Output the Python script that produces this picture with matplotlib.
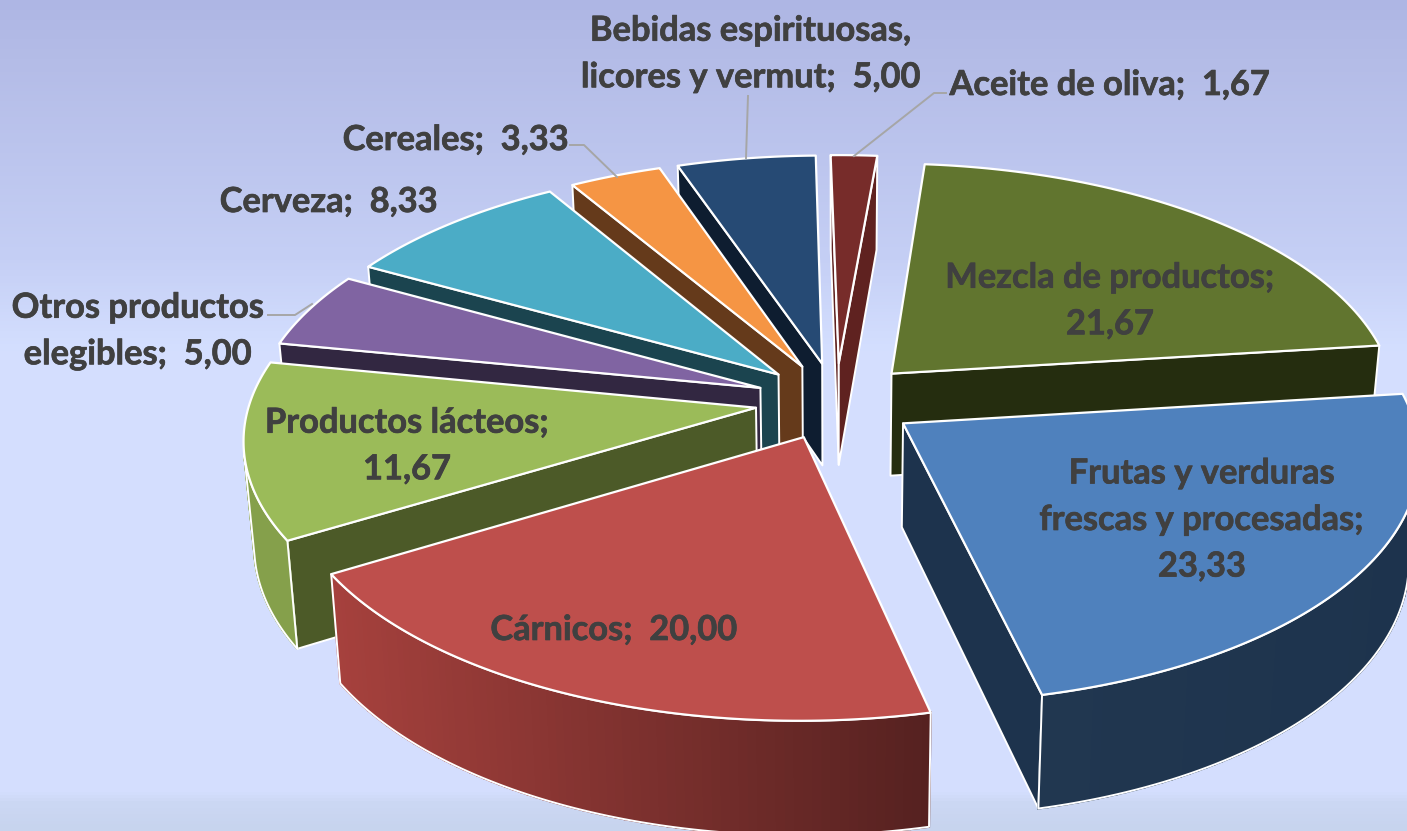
import numpy as np
import matplotlib
matplotlib.use("Agg")
import matplotlib.pyplot as plt
import matplotlib.patheffects as pe
from matplotlib.colors import LinearSegmentedColormap, to_rgb
from matplotlib.patches import Polygon

categories = ["Mezcla de productos", "Frutas y verduras frescas y procesadas", "Cárnicos",
              "Productos lácteos", "Otros productos elegibles", "Cerveza", "Cereales",
              "Bebidas espirituosas, licores y vermut", "Aceite de oliva"]
values = [21.67, 23.33, 20.00, 11.67, 5.00, 8.33, 3.33, 5.00, 1.67]
label_texts = ["Mezcla de productos;\n21,67", "Frutas y verduras\nfrescas y procesadas;\n23,33",
               "Cárnicos;  20,00", "Productos lácteos;\n11,67", "Otros productos\nelegibles;  5,00",
               "Cerveza;  8,33", "Cereales;  3,33", "Bebidas espirituosas,\nlicores y vermut;  5,00",
               "Aceite de oliva;  1,67"]

# top, radial wall, outer wall from/to
top_colors = ["#61752F", "#4F81BD", "#BE4F4C", "#9BBB59", "#8064A2", "#4BACC6", "#F59544", "#264A74", "#772C2A"]
side_colors = ["#252D0F", "#1D334D", "#4D1F1D", "#4C5A28", "#322741", "#1B444F", "#653A1B", "#0E1D30", "#5F2220"]
arc_colors = [("#252D0F", "#252D0F"), ("#213750", "#1D334D"), ("#A6413D", "#552120"), ("#85A04B", "#85A04B"),
              ("#322741", "#322741"), ("#1B444F", "#1B444F"), ("#653A1B", "#653A1B"), ("#0E1D30", "#0E1D30"),
              ("#5F2220", "#5F2220")]
draw_order = [8, 7, 6, 0, 5, 4, 3, 1, 2]

label_pos = [(1110, 301), (1202, 520), (614, 630), (407, 446), (138, 331), (329, 202), (456, 140), (751, 54), (1110, 85)]
leaders = [None, None, None, None, [(268, 315), (295, 315), (312, 304)], None,
           [(570, 145), (584, 145), (617, 177)], [(748, 96), (746, 158)],
           [(946, 93), (934, 93), (854, 156)]]

cx, cy = 836, 401
rx, ry = 506, 241
persp = 0.118
explode = 0.16
first_angle = 5.0
wall = 103.0
shrink = 0.982


def project(u, v):
    s = 1 / (1 + persp * v)
    return np.column_stack([cx + rx * u * s, cy - ry * v * s])


def bottom(p):
    q = p.copy()
    q[:, 0] = cx + (p[:, 0] - cx) * shrink
    q[:, 1] = p[:, 1] + wall * (1 + (p[:, 1] - cy) * 0.00035)
    return q


def facing(a, b, c):
    # a->b along the top edge, a->c down the wall
    return (b[0] - a[0]) * (c[1] - a[1]) - (b[1] - a[1]) * (c[0] - a[0]) < 0


def mix(c1, c2, t):
    c1, c2 = np.array(to_rgb(c1)), np.array(to_rgb(c2))
    return tuple(c1 + (c2 - c1) * t)


fig = plt.figure(figsize=(14.07, 8.31), dpi=100)
ax = fig.add_axes([0, 0, 1, 1])
ax.set_xlim(0, 1407)
ax.set_ylim(831, 0)
ax.axis("off")

bg = LinearSegmentedColormap.from_list("bg", [(0, "#AEB6E4"), (0.07, "#B4BCE7"), (0.31, "#C5CFF5"),
                                              (0.42, "#D4DFFF"), (0.955, "#D4DEFE"), (0.968, "#CCD8F4"),
                                              (1, "#C7D4EE")])
ax.imshow(np.linspace(0, 1, 831)[:, None], cmap=bg, aspect="auto", extent=[0, 1407, 831, 0], zorder=0)

angles = np.cumsum([0] + values) / sum(values) * 360 + first_angle
z = 1
for i in draw_order:
    a0, a1 = np.radians(angles[i]), np.radians(angles[i + 1])
    mid = (a0 + a1) / 2
    ou, ov = explode * np.sin(mid), explode * np.cos(mid)
    t = np.linspace(a0, a1, 80)
    us = np.r_[ou, ou + np.sin(t)]
    vs = np.r_[ov, ov + np.cos(t)]
    top = project(us, vs)
    bot = bottom(top)

    n = len(top)
    for j in [0, n - 1]:
        k = (j + 1) % n
        if facing(top[j], top[k], bot[j]):
            ax.add_patch(Polygon([top[j], top[k], bot[k], bot[j]], closed=True, fc=side_colors[i],
                                 ec="white", lw=1.4, joinstyle="round", zorder=z))
            z += 1
    # outer wall, only the part turned to the viewer
    vis = [j for j in range(1, n - 1) if facing(top[j], top[j + 1], bot[j])]
    if vis:
        idx = vis + [vis[-1] + 1]
        arc_t, arc_b = top[idx], bot[idx]
        xmin, xmax = arc_t[:, 0].min(), arc_t[:, 0].max()
        for j in range(len(arc_t) - 1):
            f = ((arc_t[j, 0] + arc_t[j + 1, 0]) / 2 - xmin) / (xmax - xmin)
            col = mix(arc_colors[i][0], arc_colors[i][1], f)
            ax.add_patch(Polygon([arc_t[j], arc_t[j + 1], arc_b[j + 1], arc_b[j]], closed=True,
                                 fc=col, ec=col, lw=1.5, zorder=z))
        z += 1
        ax.add_patch(Polygon(np.r_[arc_t, arc_b[::-1]], closed=True, fill=False, ec="white", lw=1.4,
                             joinstyle="round", zorder=z))
        z += 1
    ax.add_patch(Polygon(top, closed=True, fc=top_colors[i], ec="white", lw=1.6, joinstyle="round", zorder=z))
    z += 1

for pts in leaders:
    if pts:
        ax.plot([p[0] for p in pts], [p[1] for p in pts], color="#A6A6A6", lw=1.4, zorder=z)

for txt, pos in zip(label_texts, label_pos):
    ax.text(pos[0], pos[1], txt, ha="center", va="center", fontsize=24.8, fontweight="bold",
            family="Lato", color="#404040", linespacing=1.56, zorder=z + 1,
            path_effects=[pe.withStroke(linewidth=0.5, foreground="#404040")])

fig.savefig("out.png", dpi=100)
